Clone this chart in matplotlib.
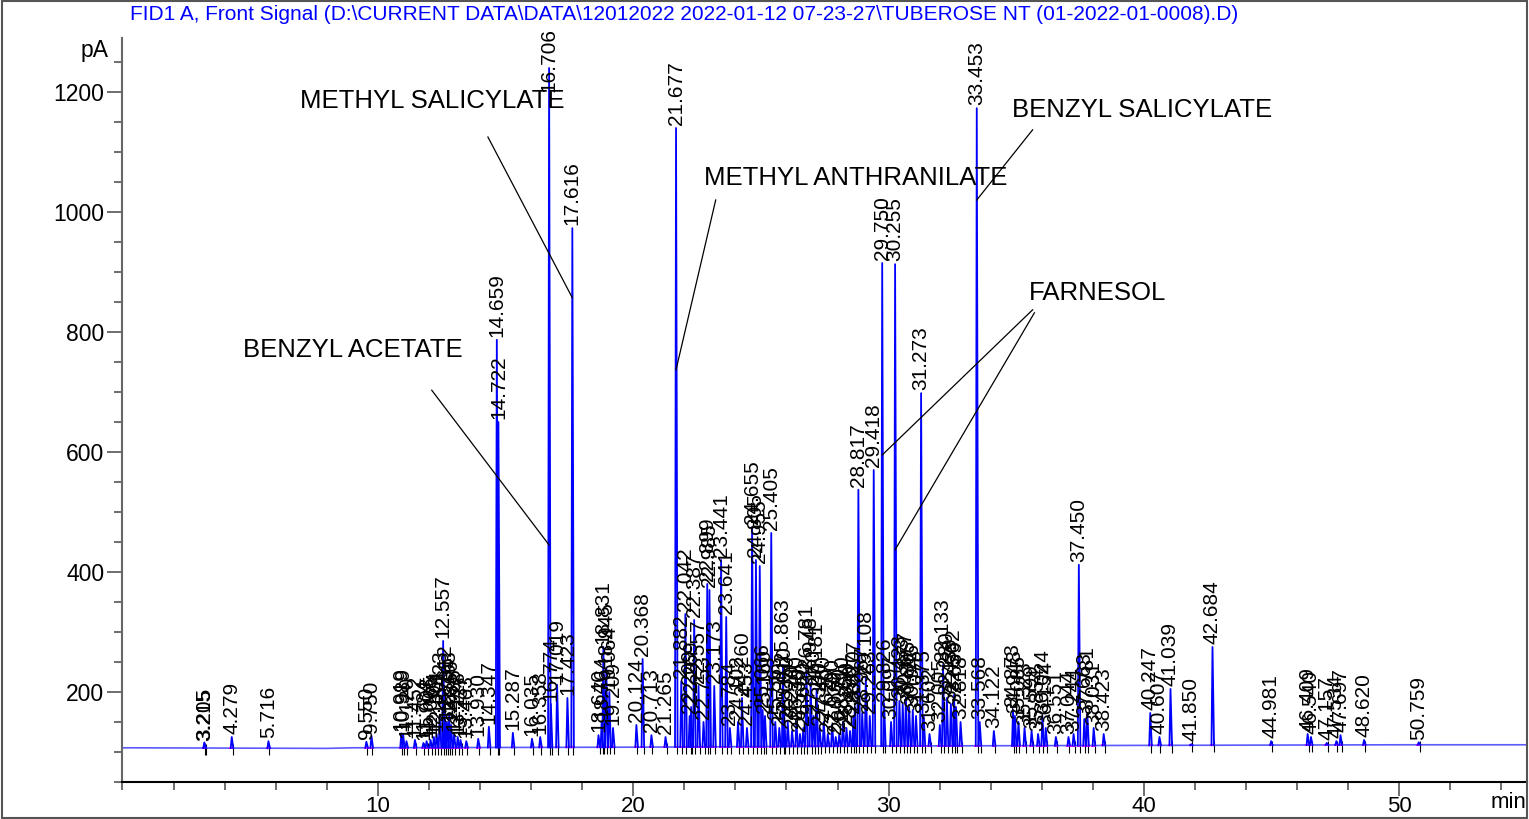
import numpy as np
import matplotlib
matplotlib.use("Agg")
import matplotlib.pyplot as plt
from matplotlib.ticker import MultipleLocator
from matplotlib.patches import Rectangle

plt.rcParams['font.family'] = ['Liberation Sans', 'DejaVu Sans']

title = ("FID1 A, Front Signal (D:\\CURRENT DATA\\DATA\\12012022 2022-01-12 07-23-27"
         "\\TUBEROSE NT (01-2022-01-0008).D)")

# retention times (min) and apex heights (pA)
rt = [3.205, 3.215, 4.279, 5.716, 9.550, 9.750,
      10.919, 10.989, 11.120, 11.452, 11.784, 11.908, 12.065, 12.194, 12.301,
      12.423, 12.557, 12.612, 12.705, 12.793, 12.866, 12.985, 13.128, 13.237,
      13.463, 13.930, 14.347, 14.659, 14.722, 15.287, 16.035, 16.358, 16.706,
      16.774, 17.019, 17.423, 17.616, 18.640, 18.764, 18.831, 18.945, 19.064,
      19.209, 20.124, 20.368, 20.713, 21.265, 21.677, 21.882, 22.042, 22.209,
      22.269, 22.387, 22.557, 22.753, 22.899, 22.985, 23.173, 23.441, 23.641,
      23.784, 24.102, 24.260, 24.453, 24.655, 24.805, 24.955, 25.066, 25.160,
      25.405, 25.563, 25.720, 25.863, 25.910, 26.050, 26.220, 26.390, 26.530,
      26.660, 26.781, 26.948, 27.060, 27.181, 27.300, 27.460, 27.620, 27.790,
      27.930, 28.070, 28.210, 28.350, 28.490, 28.620, 28.677, 28.817, 28.967,
      29.108, 29.263, 29.418, 29.750, 29.826, 30.097, 30.255, 30.423, 30.553,
      30.677, 30.805, 30.946, 31.075, 31.273, 31.375, 31.602, 32.005, 32.133,
      32.280, 32.439, 32.562, 32.639, 32.818, 33.453, 33.568, 34.122, 34.873,
      34.948, 35.085, 35.323, 35.599, 35.854, 36.024, 36.154, 36.551, 37.044,
      37.244, 37.450, 37.663, 37.781, 38.031, 38.423, 40.247, 40.607, 41.039,
      41.850, 42.684, 44.981, 46.409, 46.540, 47.157, 47.534, 47.697, 48.620,
      50.759]
height = [116, 114, 125, 118, 117, 127,
          131, 130, 118, 120, 115, 118, 120, 125, 130,
          160, 285, 170, 150, 160, 145, 130, 125, 120,
          118, 122, 142, 787, 650, 132, 122, 125, 1240,
          180, 212, 190, 973, 128, 150, 275, 240, 200,
          140, 145, 255, 128, 125, 1140, 218, 330, 160,
          175, 320, 210, 150, 380, 370, 210, 420, 325,
          140, 150, 190, 140, 475, 420, 410, 170, 160,
          465, 150, 140, 245, 165, 150, 135, 150, 130,
          140, 235, 215, 160, 205, 140, 150, 130, 145,
          125, 130, 150, 140, 135, 160, 175, 537, 165,
          225, 160, 570, 915, 180, 150, 913, 185, 180,
          190, 175, 170, 160, 698, 160, 130, 145, 245,
          190, 180, 195, 175, 150, 1173, 150, 135, 170,
          160, 150, 140, 135, 130, 160, 140, 125, 125,
          130, 412, 155, 165, 140, 130, 165, 125, 205,
          113, 275, 118, 130, 125, 115, 118, 128, 120,
          116]

# detector baseline drift
base_t = [0, 8, 9, 20, 30, 40, 50, 55]
base_pA = [107, 106, 107, 108, 110, 111, 112, 112]

# named compounds: label, peak it points to
names = ["METHYL SALICYLATE", "BENZYL ACETATE", "METHYL ANTHRANILATE",
         "BENZYL SALICYLATE", "FARNESOL", "FARNESOL"]
name_peak = [17.616, 16.706, 21.677, 33.453, 29.750, 30.255]

fig = plt.figure(figsize=(15.29, 8.19), dpi=100)
ax = fig.add_axes([0.0801, 0.0452, 0.9186, 0.9084])

rt_a = np.array(rt)
h_a = np.array(height)
base = np.interp(rt_a, base_t, base_pA)

# baseline trace
ax.plot(base_t, base_pA, color='#5a5aff', lw=1.2, zorder=2)

# pink integration baselines and peak markers
ax.hlines(base, rt_a - 0.09, rt_a + 0.09, color='#ff00ff', lw=1.2, zorder=3)
ax.vlines(rt_a + 0.04, base - 12, base + 7, color='black', lw=0.8, zorder=1)

# peaks
for t, h, b in zip(rt_a, h_a, base):
    ax.plot([t - 0.04, t, t + 0.06], [b, h, b], color='#0000ff', lw=1.3, zorder=4)
    # labels that would run off the top sit inside the peak instead
    ax.annotate("%.3f" % t, (t, min(h, 1195)), xytext=(0, 2), textcoords='offset points',
                rotation=90, ha='center', va='bottom', fontsize=15, color='black',
                zorder=5)

# compound annotations (text position, line start, line end)
ann = [((12.12, 1185), (14.31, 1125), 857),
       ((9.02, 770), (12.11, 703), 445),
       ((28.71, 1057), (23.23, 1020), 737),
       ((39.94, 1170), (35.64, 1137), 1020),
       ((38.18, 865), (35.64, 837), 595),
       (None, (35.71, 832), 437)]
for nm, pk, (tpos, lstart, yend) in zip(names, name_peak, ann):
    if tpos is not None:
        ax.text(tpos[0], tpos[1], nm, fontsize=18.5, ha='center', va='center', zorder=6)
    ax.plot([lstart[0], pk], [lstart[1], yend], color='black', lw=0.9, zorder=6)

ax.set_xlim(0, 55)
ax.set_ylim(50, 1290)
ax.set_xticks([10, 20, 30, 40, 50])
ax.xaxis.set_minor_locator(MultipleLocator(2))
ax.set_yticks([200, 400, 600, 800, 1000, 1200])
ax.yaxis.set_minor_locator(MultipleLocator(50))
ax.tick_params(which='major', length=11, width=1.2, color='#555555', labelsize=16.5, pad=2)
ax.tick_params(which='minor', length=6, width=1.2, color='#555555')
ax.tick_params(axis='x', which='major', length=10, labelsize=16, pad=0)
ax.spines['top'].set_visible(False)
ax.spines['right'].set_visible(False)
ax.spines['left'].set_color('#666666')
ax.spines['left'].set_linewidth(1.5)
ax.spines['bottom'].set_linewidth(1.5)

fig.text(130 / 1529, 1 - 15 / 819, title, color='#0000ff', fontsize=15,
         ha='left', va='center')
fig.text(95 / 1529, 1 - 50 / 819, "pA", fontsize=16.5, ha='center', va='center')
fig.text(1526 / 1529, 1 - 803 / 819, "min", fontsize=16, ha='right', va='center')

fig.patches.append(Rectangle((0.001, 0.001), 0.998, 0.998, transform=fig.transFigure,
                             fill=False, edgecolor='#555555', lw=1.5))

fig.savefig("out.png", dpi=100)
